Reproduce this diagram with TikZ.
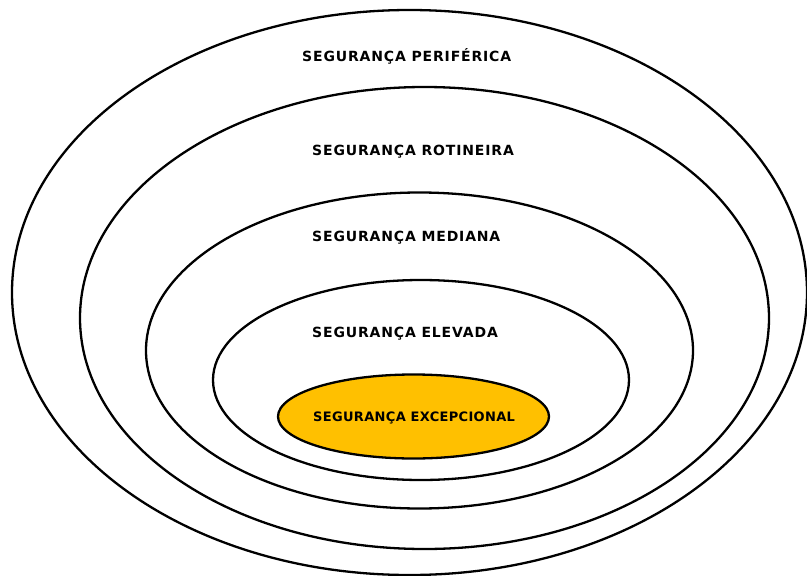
\documentclass[tikz,border=0pt]{standalone}
\usepackage{fontspec}
\setmainfont{DejaVu Sans}
\definecolor{excep}{HTML}{FFC000}
\begin{document}
\begin{tikzpicture}[x=1pt,y=-1pt,
  ring/.style={draw=black,line width=2.3pt},
  lbl/.style={anchor=west,inner sep=0pt,font=\bfseries\fontsize{14}{16}\selectfont\addfontfeature{LetterSpace=6}},
  lblsmall/.style={anchor=west,inner sep=0pt,font=\bfseries\fontsize{13}{15}\selectfont\addfontfeature{LetterSpace=2.5}}]
\useasboundingbox (0,0) rectangle (807,576);
\fill[white] (0,0) rectangle (807,576);
\draw[ring] (409.5,292.5) ellipse [x radius=397.5, y radius=282.5];
\draw[ring] (424.5,318) ellipse [x radius=344.5, y radius=231];
\draw[ring] (419.5,350.5) ellipse [x radius=273.5, y radius=158];
\draw[ring] (421,380) ellipse [x radius=208, y radius=100];
\draw[ring,fill=excep] (413.5,416.5) ellipse [x radius=135.5, y radius=42];
\node[lbl] (p) at (302,56) {SEGURANÇA PERIFÉRICA};
\node[lbl] (r) at (312,151.5) {SEGURANÇA ROTINEIRA};
\node[lbl] (m) at (312,238) {SEGURANÇA MEDIANA};
\node[lbl] (e) at (312,333.5) {SEGURANÇA ELEVADA};
\node[lblsmall] (x) at (313,418) {SEGURANÇA EXCEPCIONAL};
\end{tikzpicture}
\end{document}
